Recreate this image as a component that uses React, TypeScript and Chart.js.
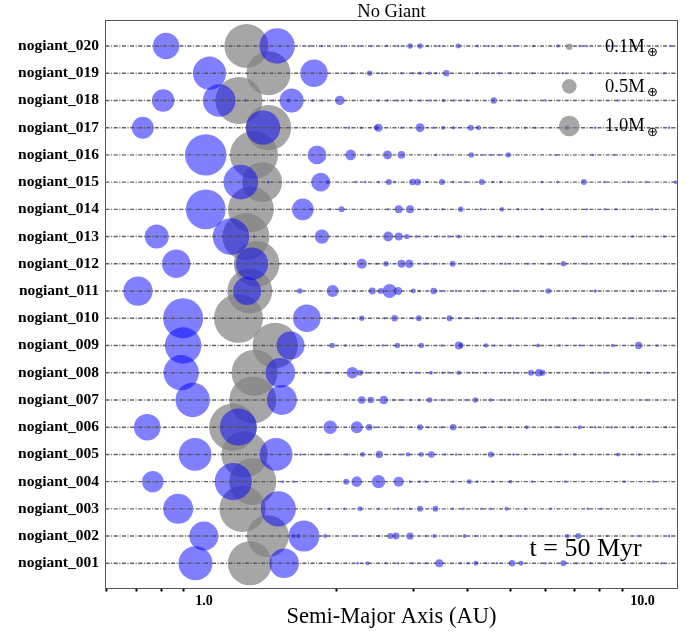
import React, { useEffect, useRef } from 'react';
import { Chart, registerables } from 'chart.js';

Chart.register(...registerables);

const SERIF = "'Liberation Serif', 'Times New Roman', Times, serif";
const MATH = "'DejaVu Sans', sans-serif";

const TITLE = 'No Giant';
const X_TITLE = 'Semi-Major Axis (AU)';
const TIME_LABEL = 't = 50 Myr';

const ROW_LABELS = [
  'nogiant_001', 'nogiant_002', 'nogiant_003', 'nogiant_004', 'nogiant_005',
  'nogiant_006', 'nogiant_007', 'nogiant_008', 'nogiant_009', 'nogiant_010',
  'nogiant_011', 'nogiant_012', 'nogiant_013', 'nogiant_014', 'nogiant_015',
  'nogiant_016', 'nogiant_017', 'nogiant_018', 'nogiant_019', 'nogiant_020',
];

const X_MIN = 0.596;
const X_MAX = 12.02;
const Y_MIN = 0.075;
const Y_MAX = 20.936;
const X_TICKS = [0.6, 0.7, 0.8, 0.9, 1, 2, 3, 4, 5, 6, 7, 8, 9, 10];
const X_LABELED = [1, 10];

// Legend masses (Earth masses)
const LEGEND_M = [0.1, 0.5, 1.0];
const LEGEND_LABELS = ['0.1M', '0.5M', '1.0M'];
const LEGEND_SUB = '⊕';

// Gray (large) bodies: semi-major axis (AU) and mass per row 001..020
const GRAY_A = [1.272, 1.398, 1.224, 1.292, 1.237, 1.163, 1.292, 1.304, 1.453, 1.198,
  1.272, 1.318, 1.246, 1.279, 1.357, 1.300, 1.403, 1.201, 1.403, 1.249];
const GRAY_M = [4.52, 4.1, 5.0, 5.15, 5.0, 5.2, 5.15, 4.94, 4.8, 5.6,
  4.7, 4.86, 5.15, 4.9, 3.73, 5.38, 4.8, 5.15, 4.52, 4.52];

// Blue bodies per row: [a (AU), mass]
const BLUE_001 = [[0.956, 2.7], [1.523, 2.04], [2.36, 0.037], [3.44, 0.149], [4.17, 0.058], [5.04, 0.1], [5.28, 0.058], [6.6, 0.084]];
const BLUE_002 = [[0.999, 1.96], [1.69, 2.24], [1.6, 0.037], [1.64, 0.037], [1.89, 0.037], [2.66, 0.084], [2.74, 0.114], [2.95, 0.128], [3.35, 0.037], [3.93, 0.037], [6.74, 0.049], [7.14, 0.084]];
const BLUE_003 = [[0.873, 2.1], [1.477, 2.9], [2.27, 0.058], [3.11, 0.084], [3.37, 0.084], [4.9, 0.037]];
const BLUE_004 = [[0.764, 1.07], [1.166, 3.23], [1.51, 0.021], [2.11, 0.084], [2.23, 0.26], [2.5, 0.42], [2.78, 0.233], [4.03, 0.058], [5.0, 0.037]];
const BLUE_005 = [[0.954, 2.5], [1.46, 2.5], [2.3, 0.058], [2.51, 0.128], [2.92, 0.045], [3.13, 0.058], [3.3, 0.1], [4.51, 0.084], [8.8, 0.037]];
const BLUE_006 = [[0.742, 1.65], [1.198, 3.23], [1.94, 0.42], [2.23, 0.336], [2.38, 0.1], [3.11, 0.084], [3.7, 0.1], [5.45, 0.037], [7.19, 0.037]];
const BLUE_007 = [[0.942, 2.76], [1.505, 2.1], [2.29, 0.135], [2.4, 0.1], [2.57, 0.173], [3.27, 0.073], [4.16, 0.068], [4.5, 0.03]];
const BLUE_008 = [[0.887, 2.9], [1.493, 2.04], [2.18, 0.314], [2.27, 0.084], [3.29, 0.037], [3.81, 0.049], [5.57, 0.084], [5.8, 0.135], [5.92, 0.084]];
const BLUE_009 = [[0.896, 3.1], [1.575, 1.83], [1.96, 0.068], [2.76, 0.073], [3.13, 0.068], [3.81, 0.149], [3.86, 0.058], [4.4, 0.049], [5.78, 0.037], [8.56, 0.03], [9.8, 0.128]];
const BLUE_010 = [[0.896, 3.73], [1.716, 1.78], [2.29, 0.068], [2.72, 0.1], [3.09, 0.084], [3.63, 0.084]];
const BLUE_011 = [[0.707, 2.0], [1.254, 1.83], [1.654, 0.068], [1.965, 0.336], [2.42, 0.114], [2.53, 0.084], [2.65, 0.457], [2.77, 0.149], [3.0, 0.058], [3.34, 0.1], [6.1, 0.073], [7.8, 0.03]];
const BLUE_012 = [[0.864, 1.88], [1.286, 2.45], [2.29, 0.233], [2.6, 0.073], [2.82, 0.149], [2.94, 0.173], [3.69, 0.084], [6.6, 0.073]];
const BLUE_013 = [[0.78, 1.34], [1.152, 3.1], [1.857, 0.48], [2.63, 0.233], [2.78, 0.149], [2.9, 0.068], [3.05, 0.021], [3.8, 0.037]];
const BLUE_014 = [[1.009, 3.7], [1.68, 1.11], [2.06, 0.084], [2.78, 0.149], [2.95, 0.149], [3.85, 0.073], [4.78, 0.049]];
const BLUE_015 = [[1.213, 2.8], [1.846, 0.84], [1.915, 0.037], [2.64, 0.084], [2.99, 0.1], [3.07, 0.1], [3.49, 0.084], [4.3, 0.084], [7.35, 0.084], [11.9, 0.037]];
const BLUE_016 = [[1.009, 4.0], [1.81, 0.82], [2.16, 0.26], [2.37, 0.021], [2.62, 0.19], [2.82, 0.135], [4.07, 0.068], [4.94, 0.068]];
const BLUE_017 = [[0.725, 1.13], [1.363, 2.76], [2.47, 0.058], [2.5, 0.149], [3.11, 0.19], [3.51, 0.037], [3.71, 0.03], [4.06, 0.084], [4.23, 0.058], [6.73, 0.058]];
const BLUE_018 = [[0.807, 1.19], [1.083, 2.48], [1.584, 1.34], [1.56, 0.037], [1.77, 0.021], [2.04, 0.215], [3.52, 0.03], [4.58, 0.095]];
const BLUE_019 = [[1.029, 2.57], [1.782, 1.75], [2.386, 0.073], [3.11, 0.03], [3.27, 0.03], [3.57, 0.1], [6.58, 0.015]];
const BLUE_020 = [[0.819, 1.63], [1.468, 2.93], [2.95, 0.068], [3.11, 0.068], [3.44, 0.015], [3.8, 0.058], [4.2, 0.021], [6.42, 0.03], [7.2, 0.015], [11.6, 0.015]];

// Tiny remnant bodies per row (a in AU), all of mass TINY_MASS
const TINY_MASS = 0.015;
const TINY_001 = [1.6, 2.24, 2.6, 2.77, 2.99, 3.2, 3.84, 4.0, 4.4, 4.65, 5.99, 7.08, 7.6, 9.08, 11.07];
const TINY_002 = [2.23, 2.5, 3.2, 3.59, 4.15, 4.75, 5.02, 5.28, 5.8, 6.2, 8.3, 9.8, 11.5];
const TINY_003 = [1.93, 2.09, 2.5, 2.77, 2.95, 3.69, 3.9, 4.3, 4.5, 5.4, 6.17, 7.52, 8.06];
const TINY_004 = [1.6, 2.95, 3.1, 3.2, 3.7, 4.2, 4.55, 5.6, 6.67, 9.08, 10.6];
const TINY_005 = [1.66, 1.9, 2.12, 2.8, 3.55, 3.76, 5.08, 5.8, 6.5, 7.0, 9.82];
const TINY_006 = [2.45, 2.8, 3.25, 3.48, 4.31, 4.72, 5.0, 6.36, 7.8, 8.5, 9.5, 11.3];
const TINY_007 = [2.7, 2.8, 2.95, 3.1, 3.48, 3.63, 3.96, 4.85, 6.02, 7.0, 8.0, 10.2];
const TINY_008 = [1.7, 1.9, 2.02, 2.35, 2.5, 2.85, 3.05, 3.5, 3.62, 4.11, 4.4, 4.86, 5.1, 7.71, 8.2, 10.27];
const TINY_009 = [2.1, 2.25, 2.56, 2.9, 3.48, 4.6, 5.0, 6.47, 7.2, 10.8];
const TINY_010 = [1.99, 2.19, 2.58, 2.99, 3.23, 3.82, 3.96, 4.22, 4.72, 5.06, 6.95, 7.98, 9.35];
const TINY_011 = [2.2, 3.1, 3.47, 3.76, 4.32, 5.1, 9.5, 11.0];
const TINY_012 = [1.74, 2.0, 2.1, 2.47, 3.19, 3.34, 4.08, 4.87, 5.48, 6.11, 7.45, 9.26];
const TINY_013 = [1.3, 1.7, 2.4, 3.2, 3.4, 3.62, 4.7, 5.2, 5.85, 7.45, 9.5, 11.2];
const TINY_014 = [1.75, 1.94, 2.63, 3.21, 3.5, 4.28, 5.2, 5.9, 7.45, 8.22, 8.7, 10.5];
const TINY_015 = [1.4, 1.59, 2.22, 2.33, 2.5, 2.72, 3.22, 3.7, 3.95, 4.55, 4.75, 5.9, 6.4, 8.2, 9.3, 10.2];
const TINY_016 = [3.38, 3.6, 4.3, 4.5, 4.7, 6.35, 7.7, 8.6];
const TINY_017 = [2.14, 2.28, 2.82, 3.33, 4.5, 4.95, 5.4, 5.7, 7.8, 9.0, 11.5];
const TINY_018 = [1.24, 1.44, 1.86, 2.5, 2.62, 2.76, 2.95, 3.12, 3.28, 3.72, 3.98, 5.25, 6.0, 8.8];
const TINY_019 = [2.17, 2.55, 2.82, 3.0, 3.38, 4.2, 4.45, 4.7, 5.0, 5.6, 7.6, 8.9, 11.2];
const TINY_020 = [1.74, 1.86, 2.06, 2.25, 2.41, 2.61, 2.77, 3.24, 4.45, 4.72, 5.11, 5.64, 7.45, 8.4, 9.6];

const BLUE_ROWS = [BLUE_001, BLUE_002, BLUE_003, BLUE_004, BLUE_005, BLUE_006, BLUE_007, BLUE_008, BLUE_009, BLUE_010,
  BLUE_011, BLUE_012, BLUE_013, BLUE_014, BLUE_015, BLUE_016, BLUE_017, BLUE_018, BLUE_019, BLUE_020];
const TINY_ROWS = [TINY_001, TINY_002, TINY_003, TINY_004, TINY_005, TINY_006, TINY_007, TINY_008, TINY_009, TINY_010,
  TINY_011, TINY_012, TINY_013, TINY_014, TINY_015, TINY_016, TINY_017, TINY_018, TINY_019, TINY_020];

const BLUE_FILL = 'rgba(0,0,255,0.5)';
const GRAY_FILL = 'rgba(128,128,128,0.7)';
const LINE_COLOR = 'rgba(80,80,80,0.9)';

const radiusFor = (m: number) => 10.35 * Math.sqrt(m);

const overlayPlugin = {
  id: 'overlay',
  afterDraw(chart: any) {
    const { ctx, chartArea: ca } = chart;
    ctx.save();
    // frame
    ctx.strokeStyle = '#555';
    ctx.lineWidth = 1;
    ctx.strokeRect(ca.left, ca.top, ca.right - ca.left, ca.bottom - ca.top);
    // title
    ctx.fillStyle = '#000';
    ctx.font = `18.5px ${SERIF}`;
    ctx.textAlign = 'center';
    ctx.textBaseline = 'alphabetic';
    ctx.fillText(TITLE, (ca.left + ca.right) / 2, 16.7);
    // legend
    LEGEND_M.forEach((m, i) => {
      const cx = ca.right - 108.2;
      const cy = ca.top + 26.2 + i * 39.65;
      ctx.beginPath();
      ctx.arc(cx, cy, radiusFor(m), 0, Math.PI * 2);
      ctx.fillStyle = GRAY_FILL;
      ctx.fill();
      ctx.fillStyle = '#000';
      ctx.font = `18.5px ${SERIF}`;
      ctx.textAlign = 'left';
      ctx.textBaseline = 'alphabetic';
      const tx = ca.right - 72.5;
      ctx.fillText(LEGEND_LABELS[i], tx, cy + 5.3);
      const w = ctx.measureText(LEGEND_LABELS[i]).width;
      ctx.font = `13px ${MATH}`;
      ctx.textBaseline = 'middle';
      ctx.fillText(LEGEND_SUB, tx + w + 2.5, cy + 6.2);
    });
    // time label
    ctx.fillStyle = '#000';
    ctx.font = `26px ${SERIF}`;
    ctx.textAlign = 'right';
    ctx.textBaseline = 'alphabetic';
    ctx.fillText(TIME_LABEL, ca.right - 35.8, ca.bottom - 32.5);
    ctx.restore();
  },
};

export default function App() {
  const ref = useRef<HTMLCanvasElement>(null);

  useEffect(() => {
    const lineSets = ROW_LABELS.map((_, i) => ({
      type: 'line',
      data: [{ x: X_MIN, y: i + 1 }, { x: X_MAX, y: i + 1 }],
      borderColor: LINE_COLOR,
      borderWidth: 1.45,
      borderDash: [4, 1.6, 1, 1.6],
      pointRadius: 0,
      showLine: true,
      fill: false,
      order: 0,
    }));
    const bluePts: any[] = [];
    BLUE_ROWS.forEach((row, i) => {
      row.forEach(([a, m]) => bluePts.push({ x: a, y: i + 1, m }));
      TINY_ROWS[i].forEach((a) => bluePts.push({ x: a, y: i + 1, m: TINY_MASS }));
    });
    const grayPts = GRAY_A.map((a, i) => ({ x: a, y: i + 1, m: GRAY_M[i] }));

    const chart = new Chart(ref.current as HTMLCanvasElement, {
      type: 'scatter',
      data: {
        datasets: [
          ...lineSets,
          {
            type: 'scatter',
            data: bluePts,
            backgroundColor: BLUE_FILL,
            borderWidth: 0,
            pointRadius: (c: any) => radiusFor(c.raw ? c.raw.m : 0),
            order: 1,
          },
          {
            type: 'scatter',
            data: grayPts,
            backgroundColor: GRAY_FILL,
            borderWidth: 0,
            pointRadius: (c: any) => radiusFor(c.raw ? c.raw.m : 0),
            order: 2,
          },
        ] as any,
      },
      options: {
        animation: false,
        responsive: false,
        devicePixelRatio: 1,
        events: [],
        layout: { autoPadding: false, padding: { left: 0, right: 13.5, top: 20.5, bottom: 0 } },
        plugins: {
          legend: { display: false },
          tooltip: { enabled: false },
          title: { display: false },
        },
        scales: {
          x: {
            type: 'logarithmic',
            min: X_MIN,
            max: X_MAX,
            afterBuildTicks: (s: any) => {
              s.ticks = X_TICKS.map((v) => ({ value: v }));
            },
            afterFit: (s: any) => {
              s.height = 48.5;
              s.paddingLeft = 0;
              s.paddingRight = 0;
              s.paddingTop = 0;
              s.paddingBottom = 0;
            },
            ticks: {
              autoSkip: false,
              maxRotation: 0,
              minRotation: 0,
              padding: 1,
              color: '#000',
              font: { family: SERIF, size: 14, weight: 'bold', lineHeight: 1.2 },
              callback: (v: any) => (X_LABELED.includes(Number(v)) ? Number(v).toFixed(1) : ''),
            },
            grid: {
              display: true,
              drawOnChartArea: false,
              drawTicks: true,
              tickLength: 3,
              tickWidth: 2,
              tickColor: (c: any) => (c.tick && X_LABELED.includes(c.tick.value) ? 'rgba(0,0,0,0)' : '#000'),
            },
            border: { display: false },
            title: {
              display: true,
              text: X_TITLE,
              color: '#000',
              font: { family: SERIF, size: 22.5, weight: 'normal', lineHeight: 1.2 },
              padding: { top: 0, bottom: 6.5 },
            },
          },
          y: {
            type: 'linear',
            min: Y_MIN,
            max: Y_MAX,
            afterBuildTicks: (s: any) => {
              s.ticks = ROW_LABELS.map((_, i) => ({ value: i + 1 }));
            },
            afterFit: (s: any) => {
              s.width = 105.5;
              s.paddingLeft = 0;
              s.paddingRight = 0;
              s.paddingTop = 0;
              s.paddingBottom = 0;
            },
            ticks: {
              autoSkip: false,
              padding: 6.5,
              color: '#000',
              font: { family: SERIF, size: 15.5, weight: 'bold' },
              callback: (v: any) => ROW_LABELS[Math.round(Number(v)) - 1] ?? '',
            },
            grid: { display: false, drawTicks: false, drawOnChartArea: false },
            border: { display: false },
          },
        },
      } as any,
      plugins: [overlayPlugin],
    });
    return () => chart.destroy();
  }, []);

  return (
    <div style={{ position: 'fixed', left: 0, top: 0, width: 691, height: 637, background: '#fff' }}>
      <canvas ref={ref} width={691} height={637} style={{ display: 'block', width: 691, height: 637 }} />
    </div>
  );
}
